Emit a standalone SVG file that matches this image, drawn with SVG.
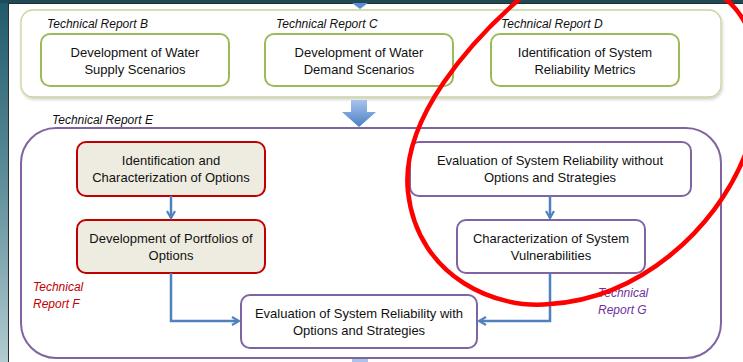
<svg xmlns="http://www.w3.org/2000/svg" width="743" height="362" viewBox="0 0 743 362">
  <defs>
    <linearGradient id="sideGrad" x1="0" y1="0" x2="0" y2="1">
      <stop offset="0" stop-color="#1f5a6b"/>
      <stop offset="0.5" stop-color="#5d8e9a"/>
      <stop offset="1" stop-color="#b3cbd1"/>
    </linearGradient>
    <linearGradient id="bigArrowGrad" x1="0" y1="0" x2="0" y2="1">
      <stop offset="0" stop-color="#a9c4ec"/>
      <stop offset="1" stop-color="#4a7fc6"/>
    </linearGradient>
    <filter id="shadow" x="-5%" y="-10%" width="110%" height="130%">
      <feDropShadow dx="1" dy="2" stdDeviation="1.5" flood-color="#000" flood-opacity="0.18"/>
    </filter>
    <marker id="arrow" viewBox="0 0 10 10" refX="8" refY="5" markerWidth="4" markerHeight="4" orient="auto" markerUnits="strokeWidth">
      <path d="M1,1 L8,5 L1,9" fill="none" stroke="#4f81bd" stroke-width="2.2" stroke-linejoin="miter"/>
    </marker>
    <style>
      .txt { font-family: "Liberation Sans", Arial, sans-serif; font-size: 13px; fill: #111111; text-anchor: middle; }
      .lbl { font-family: "Liberation Sans", Arial, sans-serif; font-size: 12px; font-style: italic; fill: #111111; }
      .green { fill: #ffffff; stroke: #9bbb59; stroke-width: 2; }
      .red { fill: #eeece1; stroke: #c00000; stroke-width: 2; }
      .purple { fill: #ffffff; stroke: #8064a2; stroke-width: 2; }
      .conn { fill: none; stroke: #4f81bd; stroke-width: 2.5; marker-end: url(#arrow); }
    </style>
  </defs>

  <!-- slide background -->
  <rect x="0" y="0" width="743" height="362" fill="url(#sideGrad)"/>
  <rect x="0" y="0" width="743" height="3" fill="#1d4a57"/>
  <rect x="8.5" y="3.5" width="740" height="362" fill="#ffffff" stroke="#2b2b2b" stroke-width="1"/>

  <!-- arrow stub entering from above -->
  <path d="M352,3 L368,3 L360,9 Z" fill="#5b8bd0"/>

  <!-- supply / demand / metrics container -->
  <g id="inputs-container">
    <rect x="21" y="10" width="700" height="87" rx="12" fill="#ffffff" stroke="#c3d69b" stroke-width="1.3" filter="url(#shadow)"/>
  </g>

  <g id="report-b">
    <text class="lbl" x="47" y="28">Technical Report B</text>
    <rect class="green" x="41" y="34" width="188" height="52" rx="9"/>
    <text class="txt" x="135" y="57">Development of Water</text>
    <text class="txt" x="135" y="74">Supply Scenarios</text>
  </g>

  <g id="report-c">
    <text class="lbl" x="276" y="28">Technical Report C</text>
    <rect class="green" x="265" y="34" width="188" height="52" rx="9"/>
    <text class="txt" x="359" y="57">Development of Water</text>
    <text class="txt" x="359" y="74">Demand Scenarios</text>
  </g>

  <g id="report-d">
    <text class="lbl" x="501" y="28">Technical Report D</text>
    <rect class="green" x="491" y="34" width="188" height="52" rx="9"/>
    <text class="txt" x="585" y="57">Identification of System</text>
    <text class="txt" x="585" y="74">Reliability Metrics</text>
  </g>

  <!-- block arrow between the two stages -->
  <g id="flow-arrow">
    <path d="M351,100 L367,100 L367,112 L376,112 L359,127 L342,112 L351,112 Z" fill="url(#bigArrowGrad)"/>
  </g>

  <!-- Technical Report E container -->
  <g id="report-e">
    <text class="lbl" x="52" y="124">Technical Report E</text>
    <rect x="21" y="128" width="700" height="230" rx="35" fill="none" stroke="#8064a2" stroke-width="2"/>
  </g>

  <g id="options-id">
    <rect class="red" x="77" y="142" width="188" height="54" rx="9"/>
    <text class="txt" x="171" y="165">Identification and</text>
    <text class="txt" x="171" y="182">Characterization of Options</text>
  </g>

  <g id="portfolios">
    <rect class="red" x="77" y="220" width="188" height="53" rx="9"/>
    <text class="txt" x="171" y="243">Development of Portfolios of</text>
    <text class="txt" x="171" y="260">Options</text>
  </g>

  <g id="report-f">
    <text class="lbl" x="33" y="291" style="fill:#c00000">Technical</text>
    <text class="lbl" x="33" y="308" style="fill:#c00000">Report F</text>
  </g>

  <g id="reliability-without">
    <rect class="purple" x="410" y="142" width="281" height="54" rx="9"/>
    <text class="txt" x="550" y="165">Evaluation of System Reliability without</text>
    <text class="txt" x="550" y="182">Options and Strategies</text>
  </g>

  <g id="vulnerabilities">
    <rect class="purple" x="457" y="220" width="188" height="53" rx="9"/>
    <text class="txt" x="551" y="243">Characterization of System</text>
    <text class="txt" x="551" y="260">Vulnerabilities</text>
  </g>

  <g id="report-g">
    <text class="lbl" x="598" y="297" style="fill:#7030a0">Technical</text>
    <text class="lbl" x="598" y="314" style="fill:#7030a0">Report G</text>
  </g>

  <g id="reliability-with">
    <rect class="purple" x="241" y="295" width="236" height="53" rx="9"/>
    <text class="txt" x="359" y="318">Evaluation of System Reliability with</text>
    <text class="txt" x="359" y="335">Options and Strategies</text>
  </g>

  <!-- arrow stub leaving below -->
  <rect x="352" y="359" width="16" height="3" fill="#a9c4ec"/>

  <!-- connectors -->
  <g id="connectors">
    <path class="conn" d="M171,196 L171,218"/>
    <path class="conn" d="M550,196 L550,218"/>
    <path class="conn" d="M171,273 L171,321 L239,321"/>
    <path class="conn" d="M550,273 L550,321 L479,321"/>
  </g>

  <!-- hand-drawn highlight ellipse -->
  <path d="M530,-10 C470,40 400,120 408,192 C418,280 500,310 550,304 C640,298 715,230 745,155 C780,70 745,-10 700,-10" fill="none" stroke="#ff0000" stroke-width="4.5"/>
</svg>
